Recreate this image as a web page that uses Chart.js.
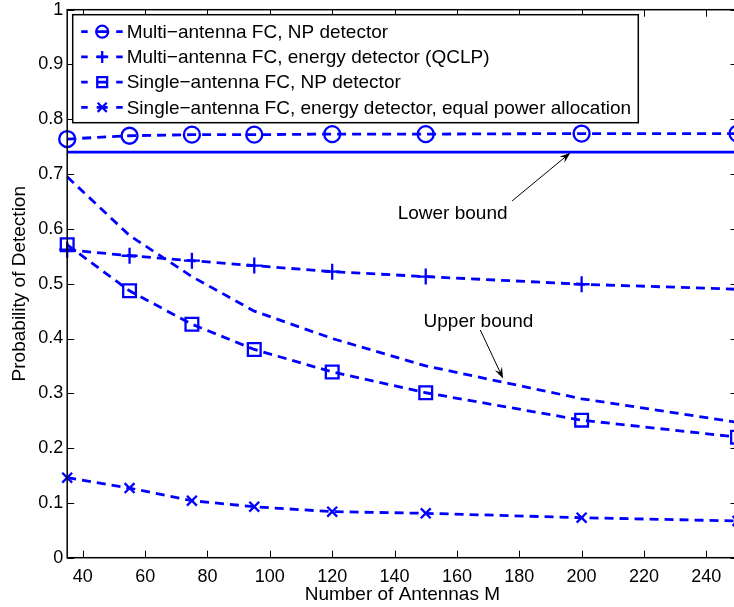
<!DOCTYPE html>
<html>
<head>
<meta charset="utf-8">
<script src="https://cdn.jsdelivr.net/npm/chart.js@4.4.0/dist/chart.umd.min.js"></script>
<style>
  html, body { margin: 0; padding: 0; background: #fff; overflow: hidden; width: 734px; height: 607px; }
  canvas { display: block; }
</style>
</head>
<body>
<canvas id="chart" width="740" height="607"></canvas>
<script>
// values
const antennas = [35, 55, 75, 95, 120, 150, 200, 250];
const multiNP = [0.764, 0.770, 0.772, 0.772, 0.773, 0.773, 0.774, 0.774];
const multiEnergy = [0.562, 0.551, 0.542, 0.533, 0.522, 0.513, 0.499, 0.490];
const singleNP = [0.571, 0.487, 0.426, 0.380, 0.339, 0.301, 0.251, 0.220];
const singleEnergy = [0.146, 0.127, 0.104, 0.093, 0.084, 0.081, 0.073, 0.067];
const upperBound = [0.695, 0.588, 0.513, 0.450, 0.400, 0.350, 0.290, 0.247];
const lowerBoundX = [35, 250];
const lowerBound = [0.740, 0.740];

const xTicks = [40, 60, 80, 100, 120, 140, 160, 180, 200, 220, 240];
const yTicks = [0, 0.1, 0.2, 0.3, 0.4, 0.5, 0.6, 0.7, 0.8, 0.9, 1];

const legendLabels = [
  'Multi\u2212antenna FC, NP detector',
  'Multi\u2212antenna FC, energy detector (QCLP)',
  'Single\u2212antenna FC, NP detector',
  'Single\u2212antenna FC, energy detector, equal power allocation'
];

const FONT = 'Liberation Sans, Arial, Helvetica, sans-serif';
const BLUE = '#0000ff';

function series(label, xs, ys, style, radius, dashed) {
  return {
    label: label,
    data: xs.map((x, i) => ({ x: x, y: ys[i] })),
    borderColor: BLUE,
    borderWidth: 2.8,
    borderDash: dashed ? [9, 6] : [],
    pointStyle: style,
    pointRadius: radius,
    pointHoverRadius: radius,
    pointBorderWidth: 2.3,
    pointBorderColor: BLUE,
    pointBackgroundColor: 'rgba(0,0,0,0)',
    fill: false,
    tension: 0,
    clip: false
  };
}

// box + inward ticks on all four sides (MATLAB look)
const boxPlugin = {
  id: 'box',
  afterDraw(chart) {
    const { ctx, chartArea: a, scales } = chart;
    const len = 7;
    ctx.save();
    ctx.strokeStyle = '#000';
    ctx.lineWidth = 1.5;
    ctx.strokeRect(a.left, a.top, a.right - a.left, a.bottom - a.top);
    ctx.lineWidth = 1;
    ctx.beginPath();
    xTicks.forEach(v => {
      const px = Math.round(scales.x.getPixelForValue(v)) + 0.5;
      ctx.moveTo(px, a.bottom); ctx.lineTo(px, a.bottom - len);
      ctx.moveTo(px, a.top); ctx.lineTo(px, a.top + len);
    });
    yTicks.forEach(v => {
      const py = Math.round(scales.y.getPixelForValue(v)) + 0.5;
      ctx.moveTo(a.left, py); ctx.lineTo(a.left + len, py);
      ctx.moveTo(a.right, py); ctx.lineTo(a.right - len, py);
    });
    ctx.stroke();
    ctx.restore();
  }
};

function arrow(ctx, x1, y1, x2, y2) {
  const ang = Math.atan2(y2 - y1, x2 - x1);
  const L = 11, W = 4;
  ctx.beginPath();
  ctx.moveTo(x1, y1);
  ctx.lineTo(x2 - Math.cos(ang) * 6, y2 - Math.sin(ang) * 6);
  ctx.stroke();
  ctx.beginPath();
  ctx.moveTo(x2, y2);
  ctx.lineTo(x2 - L * Math.cos(ang) + W * Math.sin(ang), y2 - L * Math.sin(ang) - W * Math.cos(ang));
  ctx.lineTo(x2 - 7 * Math.cos(ang), y2 - 7 * Math.sin(ang));
  ctx.lineTo(x2 - L * Math.cos(ang) - W * Math.sin(ang), y2 - L * Math.sin(ang) + W * Math.cos(ang));
  ctx.closePath();
  ctx.fill();
}

// text arrows, placed in data units
const notes = [
  { text: 'Lower bound', tx: 141, ty: 0.629, from: [177.7, 0.651], to: [196.4, 0.739] },
  { text: 'Upper bound', tx: 149.3, ty: 0.432, from: [167.5, 0.4155], to: [174.8, 0.327] }
];

const notePlugin = {
  id: 'notes',
  afterDraw(chart) {
    const { ctx, scales } = chart;
    const X = v => scales.x.getPixelForValue(v), Y = v => scales.y.getPixelForValue(v);
    ctx.save();
    ctx.fillStyle = '#000';
    ctx.strokeStyle = '#000';
    ctx.lineWidth = 1;
    ctx.font = '19px ' + FONT;
    ctx.textBaseline = 'middle';
    ctx.textAlign = 'left';
    notes.forEach(n => {
      ctx.fillText(n.text, X(n.tx), Y(n.ty) + 1);
      arrow(ctx, X(n.from[0]), Y(n.from[1]), X(n.to[0]), Y(n.to[1]));
    });
    ctx.restore();
  }
};

// legend entries use smaller markers than the plot, like the original
const legendRadius = [6, 6, 7, 6.4];

const legendPlugin = {
  id: 'boxLegend',
  afterDraw(chart) {
    const { ctx, chartArea: a } = chart;
    const left = a.left + 5.5, top = a.top + 5, w = 565.6, h = 108;
    ctx.save();
    ctx.fillStyle = '#fff';
    ctx.fillRect(left, top, w, h);
    ctx.strokeStyle = '#000';
    ctx.lineWidth = 1.5;
    ctx.strokeRect(left, top, w, h);
    ctx.font = '19px ' + FONT;
    ctx.textBaseline = 'middle';
    ctx.textAlign = 'left';
    legendLabels.forEach((label, i) => {
      const ds = chart.data.datasets[i];
      const y = top + 17 + i * 25.2;
      const mx = left + 29.5;
      ctx.strokeStyle = BLUE;
      ctx.lineWidth = 2.8;
      ctx.beginPath();
      ctx.moveTo(left + 8.5, y); ctx.lineTo(left + 15, y);
      ctx.moveTo(mx - 5.5, y); ctx.lineTo(mx + 5.5, y);
      ctx.moveTo(left + 43.5, y); ctx.lineTo(left + 50, y);
      ctx.stroke();
      ctx.lineWidth = 2.3;
      ctx.fillStyle = 'rgba(0,0,0,0)';
      Chart.helpers.drawPoint(ctx, { pointStyle: ds.pointStyle, radius: legendRadius[i], rotation: 0, borderWidth: 2.3 }, mx, y);
      ctx.fillStyle = '#000';
      ctx.fillText(label, left + 54, y + 1);
    });
    ctx.restore();
  }
};

const datasets = [
  series(legendLabels[0], antennas, multiNP, 'circle', 8, true),
  series(legendLabels[1], antennas, multiEnergy, 'cross', 8, true),
  series(legendLabels[2], antennas, singleNP, 'rect', 9, true),
  series(legendLabels[3], antennas, singleEnergy, 'crossRot', 7, true),
  series('Upper bound', antennas, upperBound, false, 0, true),
  series('Lower bound', lowerBoundX, lowerBound, false, 0, false)
];

new Chart(document.getElementById('chart'), {
  type: 'line',
  data: { datasets: datasets },
  options: {
    responsive: false,
    animation: false,
    events: [],
    layout: { autoPadding: false, padding: { top: 9.7, right: 2.5, left: 0, bottom: 0 } },
    plugins: { legend: { display: false }, tooltip: { enabled: false } },
    scales: {
      x: {
        type: 'linear',
        min: 35,
        max: 250,
        afterBuildTicks: s => { s.ticks = xTicks.map(v => ({ value: v })); },
        afterFit: s => { s.height = 49.3; s.paddingLeft = 0; s.paddingRight = 0; },
        grid: { display: false, drawTicks: false },
        border: { display: false },
        ticks: { color: '#000', font: { family: FONT, size: 18 }, padding: 9, maxRotation: 0, autoSkip: false },
        title: { display: true, text: 'Number of Antennas M', color: '#000', font: { family: FONT, size: 19 }, padding: { top: 0, bottom: 0.6 } }
      },
      y: {
        type: 'linear',
        min: 0,
        max: 1,
        afterBuildTicks: s => { s.ticks = yTicks.map(v => ({ value: v })); },
        afterFit: s => { s.width = 67.2; s.paddingTop = 0; s.paddingBottom = 0; },
        grid: { display: false, drawTicks: false },
        border: { display: false },
        ticks: { color: '#000', font: { family: FONT, size: 18 }, padding: 4, callback: v => String(Number(v.toFixed(1))) },
        title: { display: true, text: 'Probability of Detection', color: '#000', font: { family: FONT, size: 19 }, padding: { top: 8.6, bottom: 0 } }
      }
    }
  },
  plugins: [boxPlugin, notePlugin, legendPlugin]
});
</script>
</body>
</html>
